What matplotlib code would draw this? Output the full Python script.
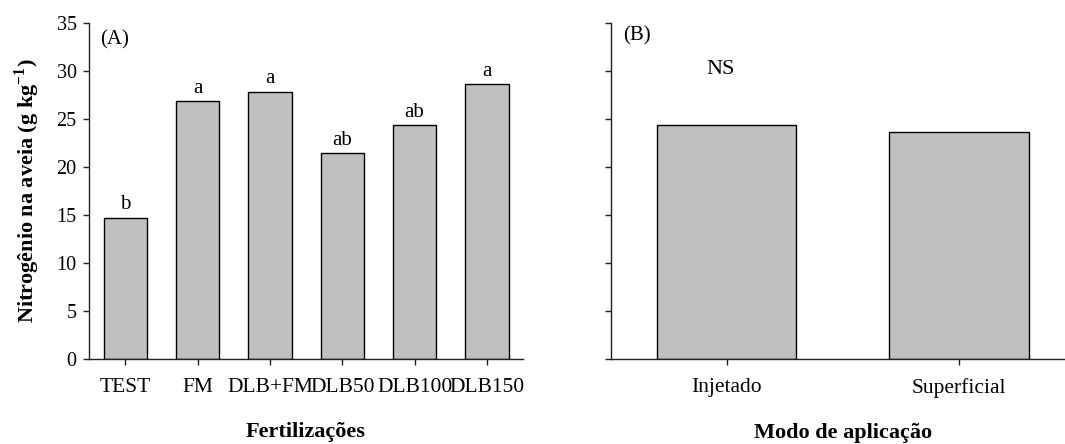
import matplotlib
matplotlib.use("Agg")
import matplotlib.pyplot as plt

plt.rcParams['font.family'] = ['Liberation Serif', 'DejaVu Serif']
plt.rcParams['mathtext.fontset'] = 'custom'
plt.rcParams['mathtext.rm'] = 'Liberation Serif'
plt.rcParams['mathtext.bf'] = 'Liberation Serif:bold'

# Panel A: fertilization treatments
fert_labels = ["TEST", "FM", "DLB+FM", "DLB50", "DLB100", "DLB150"]
fert_values = [14.7, 26.8, 27.8, 21.4, 24.3, 28.6]
fert_letters = ["b", "a", "a", "ab", "ab", "a"]

# Panel B: application mode
mode_labels = ["Injetado", "Superficial"]
mode_values = [24.3, 23.6]

yticks = [0, 5, 10, 15, 20, 25, 30, 35]

W, H = 1065, 444
fig = plt.figure(figsize=(W / 100, H / 100), dpi=100)

def frac_box(x0, y0, x1, y1):
    return [x0 / W, 1 - y1 / H, (x1 - x0) / W, (y1 - y0) / H]

bar_kw = dict(width=0.6, color="#c0c0c0", edgecolor="black", linewidth=1.0, zorder=2)

def style_axes(ax):
    for side in ("top", "right"):
        ax.spines[side].set_visible(False)
    for side in ("left", "bottom"):
        ax.spines[side].set_linewidth(1.0)
        ax.spines[side].set_color("#222222")
    ax.set_ylim(0, 35)
    ax.set_yticks(yticks)
    ax.tick_params(axis="y", direction="out", length=4, width=1.0,
                   labelsize=14.5, pad=5, color="#222222")
    ax.tick_params(axis="x", direction="out", length=4, width=1.0,
                   labelsize=15.5, pad=10, color="#222222")

# --- Panel A ---
axA = fig.add_axes(frac_box(89, 22.7, 523, 358.7))
xa = list(range(len(fert_labels)))
barsA = axA.bar(xa, fert_values, **bar_kw)
axA.set_xlim(-0.505, 5.5)
axA.set_xticks(xa)
axA.set_xticklabels(fert_labels)
style_axes(axA)
for rect, val, lab in zip(barsA, fert_values, fert_letters):
    axA.annotate(lab, (rect.get_x() + rect.get_width() / 2, val),
                 xytext=(0, 2.5), textcoords="offset points",
                 ha="center", va="bottom", fontsize=15)
axA.text(0.025, 0.978, "(A)", transform=axA.transAxes, ha="left", va="top",
         fontsize=15)
axA.set_ylabel(r"Nitrogênio na aveia (g kg$^{\mathbf{-1}}$)",
               fontsize=16, fontweight="bold", labelpad=10)
fig.text(306 / W, 1 - 436.5 / H, "Fertilizações", ha="center", va="baseline",
         fontsize=16, fontweight="bold")

# --- Panel B ---
axB = fig.add_axes(frac_box(610.7, 22.7, 1065, 358.7))
xb = list(range(len(mode_labels)))
axB.bar(xb, mode_values, **bar_kw)
axB.set_xlim(-0.4985, 1.457)
axB.set_xticks(xb)
axB.set_xticklabels(mode_labels)
style_axes(axB)
axB.set_yticklabels([])
axB.text(0.027, 0.99, "(B)", transform=axB.transAxes, ha="left", va="top",
         fontsize=15)
axB.text(-0.025, 30.1, "NS", ha="center", va="center", fontsize=16)
fig.text(843 / W, 1 - 438 / H, "Modo de aplicação", ha="center", va="baseline",
         fontsize=16, fontweight="bold")

fig.savefig("out.png", dpi=100)
